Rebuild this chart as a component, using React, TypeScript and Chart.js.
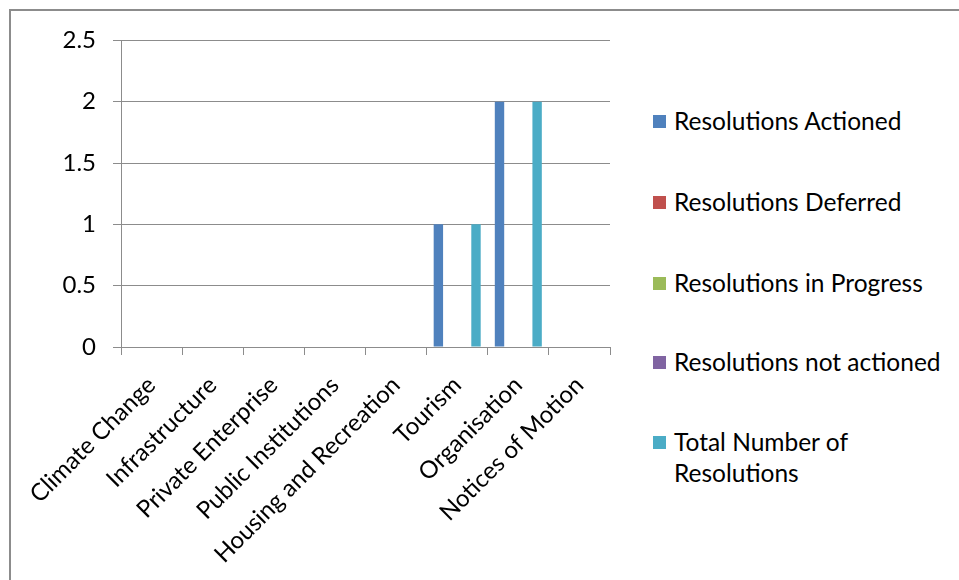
import React, { useEffect, useRef } from "react";
import { Chart, registerables } from "chart.js";

Chart.register(...registerables);

const categories = [
  "Climate Change",
  "Infrastructure",
  "Private Enterprise",
  "Public Institutions",
  "Housing and Recreation",
  "Tourism",
  "Organisation",
  "Notices of Motion",
];

const seriesNames = [
  "Resolutions Actioned",
  "Resolutions Deferred",
  "Resolutions in Progress",
  "Resolutions not actioned",
  "Total Number of Resolutions",
];

const actioned = [0, 0, 0, 0, 0, 1, 2, 0];
const deferred = [0, 0, 0, 0, 0, 0, 0, 0];
const inProgress = [0, 0, 0, 0, 0, 0, 0, 0];
const notActioned = [0, 0, 0, 0, 0, 0, 0, 0];
const total = [0, 0, 0, 0, 0, 1, 2, 0];

const seriesValues = [actioned, deferred, inProgress, notActioned, total];
const seriesColors = ["#4F81BD", "#C0504D", "#9BBB59", "#8064A2", "#4BACC6"];

const yMin = 0;
const yMax = 2.5;
const yStep = 0.5;

const FONT = "Lato, 'Liberation Sans', sans-serif";
const GRID = "#8c8c8c";

export default function App() {
  const canvasRef = useRef<HTMLCanvasElement | null>(null);

  useEffect(() => {
    if (!canvasRef.current) return;
    const chart = new Chart(canvasRef.current, {
      type: "bar",
      data: {
        labels: categories,
        datasets: seriesNames.map((name, i) => ({
          label: name,
          data: seriesValues[i],
          backgroundColor: seriesColors[i],
          borderWidth: 0,
          categoryPercentage: 5 / 6.5,
          barPercentage: 1,
        })),
      },
      options: {
        responsive: false,
        animation: false,
        devicePixelRatio: 1,
        layout: { padding: { top: 29, right: 21, left: 0, bottom: 0 } },
        plugins: {
          legend: { display: false },
          tooltip: { enabled: false },
        },
        scales: {
          x: {
            grid: {
              drawOnChartArea: false,
              drawTicks: true,
              tickLength: 8,
              color: GRID,
              offset: true,
            },
            border: { display: true, color: GRID, width: 1 },
            ticks: {
              color: "#000",
              font: { family: FONT, size: 24 },
              minRotation: 45,
              maxRotation: 45,
              autoSkip: false,
              padding: 16,
            },
            afterFit: (scale: any) => {
              scale.height = 222;
            },
          },
          y: {
            min: yMin,
            max: yMax,
            grid: {
              color: GRID,
              tickLength: 8,
              drawTicks: true,
            },
            border: { display: true, color: GRID, width: 1 },
            ticks: {
              stepSize: yStep,
              color: "#000",
              font: { family: FONT, size: 24 },
              padding: 17,
              callback: (v: any) => `${Number(v)}`,
            },
            afterFit: (scale: any) => {
              scale.width = 110;
            },
          },
        },
      },
    });
    return () => chart.destroy();
  }, []);

  const rowTops = [110, 191, 272, 351, 431];

  return (
    <div
      style={{
        position: "absolute",
        left: 9,
        top: 9,
        width: 950,
        height: 571,
        borderTop: "2px solid #8c8c8c",
        borderLeft: "2px solid #8c8c8c",
        background: "#fff",
        overflow: "hidden",
      }}
    >
      <canvas
        ref={canvasRef}
        width={620}
        height={560}
        style={{ position: "absolute", left: 0, top: -2 }}
      />
      {seriesNames.map((name, i) => (
        <div
          key={name}
          style={{
            position: "absolute",
            left: 642,
            top: rowTops[i] - 16,
            width: 300,
            fontFamily: FONT,
            fontSize: 24.5,
            lineHeight: "31px",
            color: "#000",
          }}
        >
          <span
            style={{
              position: "absolute",
              left: 0,
              top: 10,
              width: 13,
              height: 13,
              background: seriesColors[i],
            }}
          />
          <div style={{ marginLeft: 21, width: i === 4 ? 200 : 300 }}>{name}</div>
        </div>
      ))}
    </div>
  );
}
